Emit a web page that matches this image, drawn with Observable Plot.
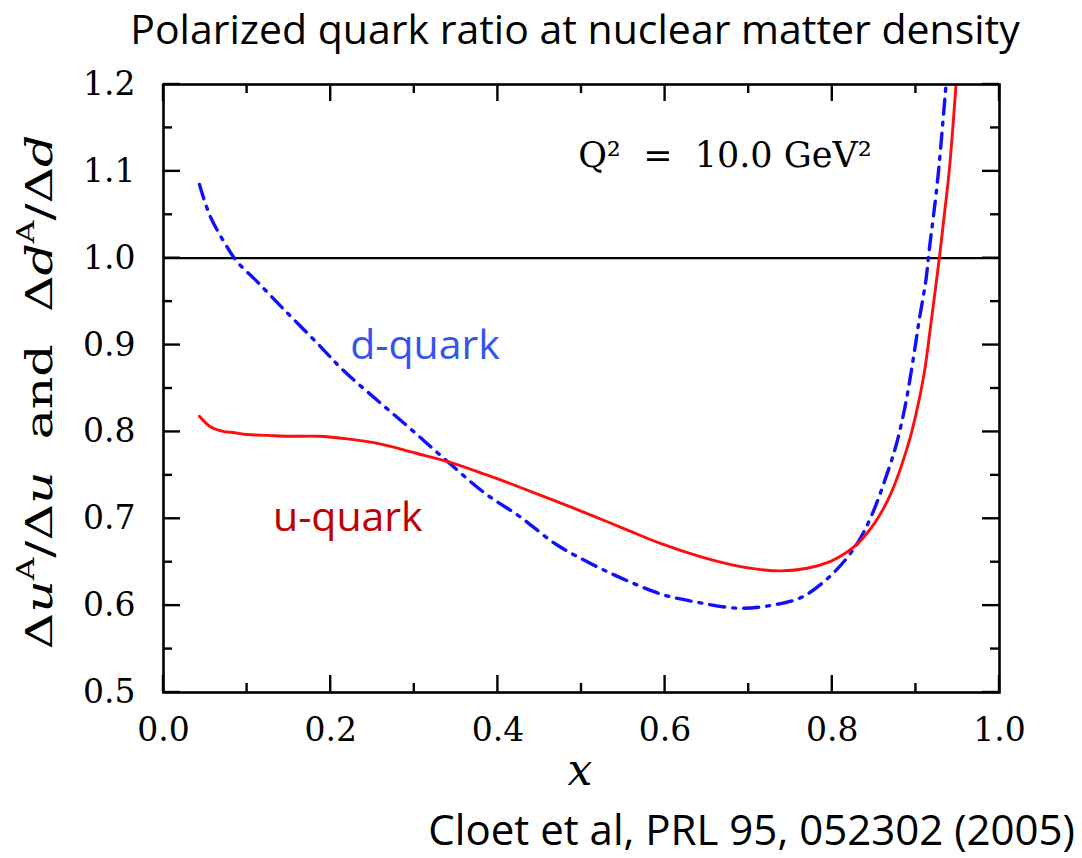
<!DOCTYPE html>
<html>
<head>
<meta charset="utf-8">
<script src="https://cdn.jsdelivr.net/npm/d3@7"></script>
<script src="https://cdn.jsdelivr.net/npm/@observablehq/plot@0.6"></script>
<style>
  html, body { margin: 0; padding: 0; background: #fff; }
  body { width: 1082px; height: 858px; overflow: hidden; font-family: "Open Sans", sans-serif; color: #000; }
  #title { height: 62px; line-height: 56px; font-size: 41px; text-align: center; padding-left: 68px; box-sizing: border-box; white-space: nowrap; }
  #chart { height: 735px; }
  #caption { height: 61px; line-height: 64px; font-size: 42px; text-align: right; padding-right: 7px; white-space: nowrap; }
  #chart svg { display: block; }
</style>
</head>
<body>
<div id="title">Polarized quark ratio at nuclear matter density</div>
<div id="chart"></div>
<div id="caption">Cloet et al, PRL 95, 052302 (2005)</div>
<script>
// ---- data ----
const uX = [0.043, 0.056, 0.07, 0.085, 0.10, 0.125, 0.15, 0.185, 0.22, 0.26, 0.30, 0.343, 0.385, 0.427, 0.47, 0.512, 0.555, 0.596, 0.64, 0.68, 0.71, 0.739, 0.77, 0.798, 0.815, 0.831, 0.852, 0.871, 0.89, 0.90, 0.91, 0.918, 0.928, 0.934, 0.94, 0.948];
const uY = [0.818, 0.806, 0.801, 0.799, 0.797, 0.796, 0.795, 0.795, 0.792, 0.786, 0.776, 0.765, 0.751, 0.736, 0.720, 0.704, 0.687, 0.671, 0.657, 0.647, 0.642, 0.640, 0.643, 0.651, 0.660, 0.672, 0.697, 0.731, 0.783, 0.820, 0.868, 0.925, 1.000, 1.050, 1.102, 1.200];

const dX = [0.043, 0.056, 0.078, 0.088, 0.112, 0.144, 0.184, 0.215, 0.255, 0.295, 0.335, 0.385, 0.427, 0.469, 0.512, 0.554, 0.596, 0.638, 0.689, 0.731, 0.764, 0.794, 0.815, 0.832, 0.848, 0.867, 0.877, 0.887, 0.896, 0.904, 0.912, 0.916, 0.926, 0.936];
const dY = [1.085, 1.048, 1.010, 0.996, 0.973, 0.941, 0.902, 0.871, 0.837, 0.804, 0.770, 0.729, 0.702, 0.671, 0.648, 0.629, 0.613, 0.604, 0.597, 0.601, 0.610, 0.631, 0.652, 0.675, 0.706, 0.756, 0.787, 0.829, 0.879, 0.929, 0.975, 1.010, 1.090, 1.200];

const xMajorTicks = [0.0, 0.2, 0.4, 0.6, 0.8, 1.0];
const xMinorTicks = [0.1, 0.3, 0.5, 0.7, 0.9];
const yMajorTicks = [0.5, 0.6, 0.7, 0.8, 0.9, 1.0, 1.1, 1.2];
const yMinorTicks = [0.55, 0.65, 0.75, 0.85, 0.95, 1.05, 1.15];
const refLine = [1.0];

const seriesNames = ["u-quark", "d-quark"];
const q2Label = "Q\u00B2\u00A0\u00A0=\u00A0\u00A010.0\u00A0GeV\u00B2";

// tables built from the arrays
const uData = uX.map((x, i) => ({x, y: uY[i]}));
const dData = dX.map((x, i) => ({x, y: dY[i]}));

const fmt = d3.format(".1f");

// layout
const W = 1082, H = 735, mL = 163, mR = 83, mT = 22, mB = 105;
const majorLen = 17, minorLen = 9;

const chart = Plot.plot({
  width: W,
  height: H,
  marginLeft: mL,
  marginRight: mR,
  marginTop: mT,
  marginBottom: mB,
  x: {domain: [0, 1]},
  y: {domain: [0.5, 1.2]},
  style: {fontFamily: "'DejaVu Serif', serif", fontSize: "33px", color: "#000", background: "#fff"},
  marks: [
    Plot.ruleY(refLine, {stroke: "#000", strokeWidth: 2.2}),
    Plot.line(dData, {x: "x", y: "y", stroke: "#1010ff", strokeWidth: 3.4, strokeDasharray: "15,8,3,8", curve: "catmull-rom", clip: true}),
    Plot.line(uData, {x: "x", y: "y", stroke: "#ff0c0c", strokeWidth: 2.9, curve: "catmull-rom", clip: true}),
    Plot.frame({stroke: "#000", strokeWidth: 2.6}),
    Plot.axisX(xMajorTicks, {anchor: "bottom", tickSize: 0, tickPadding: 25, tickFormat: fmt, label: null}),
    Plot.axisY(yMajorTicks, {anchor: "left", tickSize: 0, tickPadding: 28, tickFormat: fmt, label: null}),
    Plot.text([q2Label], {x: 0.496, y: 1.118, text: d => d, textAnchor: "start", lineAnchor: "middle", fontSize: 35, fontFamily: "'DejaVu Serif', serif", fill: "#000"}),
    Plot.text([seriesNames[1]], {x: 0.2234, y: 0.8985, text: d => d, textAnchor: "start", lineAnchor: "middle", fontSize: 41, fontFamily: "'Open Sans', sans-serif", fill: "#3355ee"}),
    Plot.text([seriesNames[0]], {x: 0.131, y: 0.7013, text: d => d, textAnchor: "start", lineAnchor: "middle", fontSize: 41, fontFamily: "'Open Sans', sans-serif", fill: "#c00000"}),
    Plot.text(["x"], {x: 0.498, y: 0.41, text: d => d, textAnchor: "middle", lineAnchor: "middle", fontSize: 44, fontStyle: "italic", fontFamily: "'DejaVu Serif', serif", fill: "#000"})
  ]
});

document.getElementById("chart").appendChild(chart);
const svg = d3.select(chart);

// inward-pointing ticks on all four sides, placed with Plot's own scales
const xs = chart.scale("x"), ys = chart.scale("y");
const fLeft = mL, fRight = W - mR, fTop = mT, fBottom = H - mB;
const tg = svg.append("g").attr("aria-label", "ticks").attr("stroke", "#000").attr("stroke-width", 2.4).attr("stroke-linecap", "butt");
for (const [vals, len] of [[xMajorTicks, majorLen], [xMinorTicks, minorLen]]) {
  for (const v of vals) {
    const px = xs.apply(v);
    tg.append("line").attr("x1", px).attr("x2", px).attr("y1", fBottom).attr("y2", fBottom - len);
    tg.append("line").attr("x1", px).attr("x2", px).attr("y1", fTop).attr("y2", fTop + len);
  }
}
for (const [vals, len] of [[yMajorTicks, majorLen], [yMinorTicks, minorLen]]) {
  for (const v of vals) {
    const py = ys.apply(v);
    tg.append("line").attr("x1", fLeft).attr("x2", fLeft + len).attr("y1", py).attr("y2", py);
    tg.append("line").attr("x1", fRight).attr("x2", fRight - len).attr("y1", py).attr("y2", py);
  }
}

// y-axis label with italic letters and superscripts
const lab = svg.append("text")
  .attr("font-family", "'DejaVu Serif', serif")
  .attr("font-size", 38)
  .attr("fill", "#000")
  .attr("x", 0).attr("y", 0)
  .style("white-space", "pre");
const parts = [
  ["\u0394", "n"], ["u", "i"], ["A", "s"], ["/\u0394", "n"], ["u", "i"],
  ["\u00A0\u00A0and\u00A0\u00A0", "n"],
  ["\u0394", "n"], ["d", "i"], ["A", "s"], ["/\u0394", "n"], ["d", "i"]
];
let raised = false;
for (const [t, kind] of parts) {
  const ts = lab.append("tspan").text(t);
  if (kind === "i") ts.attr("font-style", "italic");
  if (kind === "s") { ts.attr("font-size", "0.62em").attr("dy", "-0.75em"); raised = true; }
  else if (raised) { ts.attr("dy", "0.465em"); raised = false; }
}
const bb = lab.node().getBBox();
const targetLen = 515;
const sxl = targetLen / bb.width;
lab.attr("transform", `translate(52,${392 - 62}) rotate(-90) scale(${sxl},1) translate(${-bb.x - bb.width / 2},0)`);
</script>
</body>
</html>
